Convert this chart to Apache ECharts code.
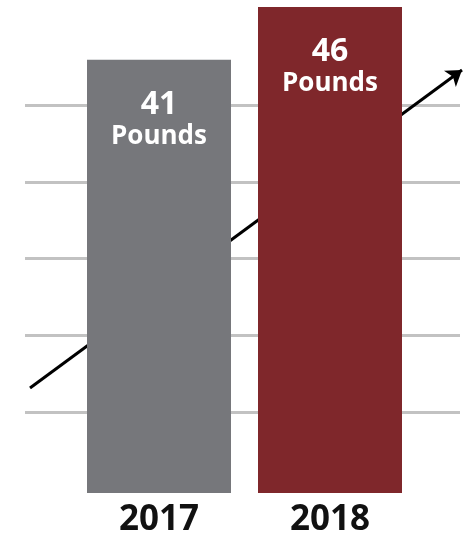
<!DOCTYPE html>
<html>
<head>
<meta charset="utf-8">
<style>
  html, body { margin: 0; padding: 0; background: #fff; }
  #chart { width: 470px; height: 538px; }
</style>
<script src="https://cdn.jsdelivr.net/npm/echarts@6/dist/echarts.min.js"></script>
</head>
<body>
<div id="chart"></div>
<script>
const years = ['2017', '2018']
const pounds = [41, 46]
const unit = 'Pounds'
const barColors = ['#76777b', '#7f272b']
// trend arrow, start -> end
const trend = [[0, 0], [1, 1]]

const chart = echarts.init(document.getElementById('chart'))

chart.setOption({
  animation: false,
  grid: [
    { left: 73.5, right: 54.5, top: 7, bottom: 41.5 },   // bars
    { left: 25, right: 10, top: 105, bottom: 126 },      // background lines
    { left: 30, right: 8, top: 70, bottom: 150 }         // trend arrow
  ],
  xAxis: [{
    gridIndex: 0,
    type: 'category',
    data: years,
    axisLine: { show: false },
    axisTick: { show: false },
    axisLabel: {
      color: '#111',
      fontFamily: 'Open Sans',
      fontWeight: 'bold',
      fontSize: 35,
      margin: 10
    }
  }, {
    gridIndex: 1,
    type: 'value',
    show: false
  }, {
    gridIndex: 2,
    type: 'value',
    min: 0,
    max: 1,
    show: false
  }],
  yAxis: [{
    gridIndex: 0,
    type: 'value',
    min: 0,
    max: 46,
    show: false
  }, {
    gridIndex: 1,
    type: 'value',
    min: 0,
    max: 4,
    interval: 1,
    axisLine: { show: false },
    axisTick: { show: false },
    axisLabel: { show: false },
    splitLine: {
      show: true,
      lineStyle: { color: '#c2c2c2', width: 3 }
    }
  }, {
    gridIndex: 2,
    type: 'value',
    min: 0,
    max: 1,
    show: false
  }],
  series: [{
    type: 'lines',
    coordinateSystem: 'cartesian2d',
    xAxisIndex: 2,
    yAxisIndex: 2,
    z: 1,
    symbol: ['none', 'arrow'],
    symbolSize: 15,
    lineStyle: { color: '#000', width: 3, opacity: 1 },
    data: [{ coords: trend }]
  }, {
    type: 'bar',
    xAxisIndex: 0,
    yAxisIndex: 0,
    z: 3,
    barWidth: 144,
    data: pounds.map((v, i) => ({ value: v, itemStyle: { color: barColors[i] } })),
    label: {
      show: true,
      position: 'insideTop',
      distance: 28,
      color: '#fff',
      fontFamily: 'Open Sans',
      fontWeight: 'bold',
      formatter: p => '{v|' + p.value + '}\n{u|' + unit + '}',
      rich: {
        v: { fontSize: 32, fontWeight: 'bold', fontFamily: 'Open Sans', color: '#fff', lineHeight: 34 },
        u: { fontSize: 26, fontWeight: 'bold', fontFamily: 'Open Sans', color: '#fff', lineHeight: 30 }
      }
    }
  }]
})
</script>
</body>
</html>
